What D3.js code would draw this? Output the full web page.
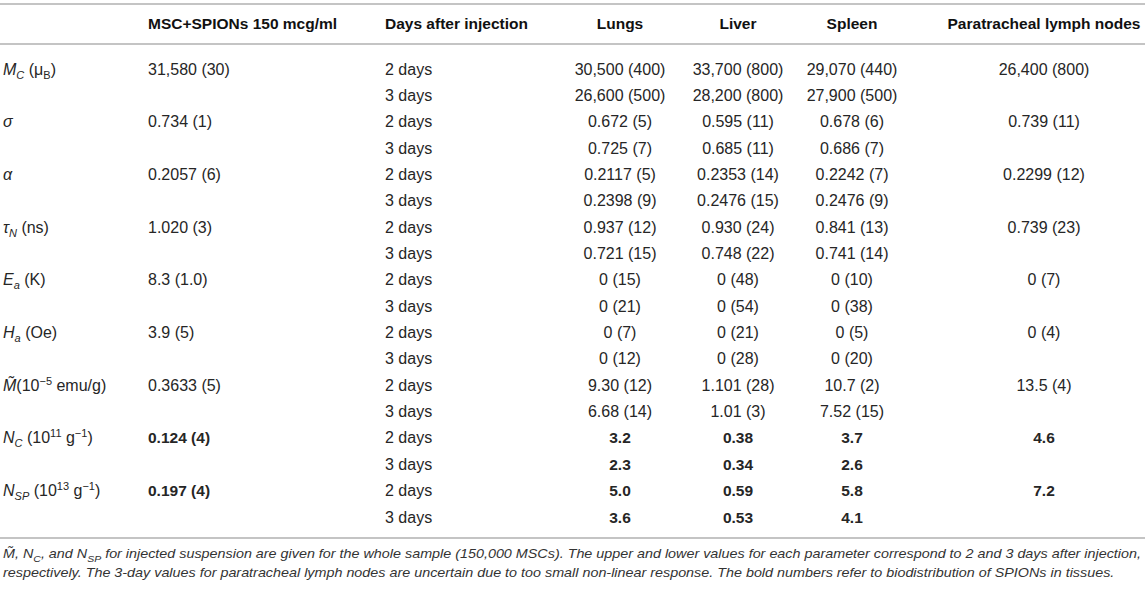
<!DOCTYPE html>
<html>
<head>
<meta charset="utf-8">
<script src="https://cdn.jsdelivr.net/npm/d3@7"></script>
<style>
  html, body { margin: 0; padding: 0; background: #fff; }
  svg { display: block; }
</style>
</head>
<body>
<div id="table"></div>
<script>
// Table content
const headers = ["", "MSC+SPIONs 150 mcg/ml", "Days after injection", "Lungs", "Liver", "Spleen", "Paratracheal lymph nodes"];

// parameter labels: list of segments, s = "sub" | "sup", i = italic
const params = [
  [{t: "M", i: 1}, {t: "C", i: 1, s: "sub"}, {t: " (μ"}, {t: "B", s: "sub"}, {t: ")"}],
  null,
  [{t: "σ", i: 1}],
  null,
  [{t: "α", i: 1}],
  null,
  [{t: "τ", i: 1}, {t: "N", i: 1, s: "sub"}, {t: " (ns)"}],
  null,
  [{t: "E", i: 1}, {t: "a", i: 1, s: "sub"}, {t: " (K)"}],
  null,
  [{t: "H", i: 1}, {t: "a", i: 1, s: "sub"}, {t: " (Oe)"}],
  null,
  [{t: "M\u0303", i: 1}, {t: "(10"}, {t: "−5", s: "sup"}, {t: " emu/g)"}],
  null,
  [{t: "N", i: 1}, {t: "C", i: 1, s: "sub"}, {t: " (10"}, {t: "11", s: "sup"}, {t: " g"}, {t: "−1", s: "sup"}, {t: ")"}],
  null,
  [{t: "N", i: 1}, {t: "SP", i: 1, s: "sub"}, {t: " (10"}, {t: "13", s: "sup"}, {t: " g"}, {t: "−1", s: "sup"}, {t: ")"}],
  null
];

const msc = ["31,580 (30)", "", "0.734 (1)", "", "0.2057 (6)", "", "1.020 (3)", "", "8.3 (1.0)", "",
  "3.9 (5)", "", "0.3633 (5)", "", "0.124 (4)", "", "0.197 (4)", ""];
const days = ["2 days", "3 days", "2 days", "3 days", "2 days", "3 days", "2 days", "3 days", "2 days", "3 days",
  "2 days", "3 days", "2 days", "3 days", "2 days", "3 days", "2 days", "3 days"];
const lungs = ["30,500 (400)", "26,600 (500)", "0.672 (5)", "0.725 (7)", "0.2117 (5)", "0.2398 (9)", "0.937 (12)", "0.721 (15)",
  "0 (15)", "0 (21)", "0 (7)", "0 (12)", "9.30 (12)", "6.68 (14)", "3.2", "2.3", "5.0", "3.6"];
const liver = ["33,700 (800)", "28,200 (800)", "0.595 (11)", "0.685 (11)", "0.2353 (14)", "0.2476 (15)", "0.930 (24)", "0.748 (22)",
  "0 (48)", "0 (54)", "0 (21)", "0 (28)", "1.101 (28)", "1.01 (3)", "0.38", "0.34", "0.59", "0.53"];
const spleen = ["29,070 (440)", "27,900 (500)", "0.678 (6)", "0.686 (7)", "0.2242 (7)", "0.2476 (9)", "0.841 (13)", "0.741 (14)",
  "0 (10)", "0 (38)", "0 (5)", "0 (20)", "10.7 (2)", "7.52 (15)", "3.7", "2.6", "5.8", "4.1"];
const lymph = ["26,400 (800)", "", "0.739 (11)", "", "0.2299 (12)", "", "0.739 (23)", "",
  "0 (7)", "", "0 (4)", "", "13.5 (4)", "", "4.6", "", "7.2", ""];
const boldRows = [14, 15, 16, 17];

const footnote = [
  [{t: "M\u0303"}, {t: ", N"}, {t: "C", s: "sub"}, {t: ", and N"}, {t: "SP", s: "sub"},
   {t: " for injected suspension are given for the whole sample (150,000 MSCs). The upper and lower values for each parameter correspond to 2 and 3 days after injection,"}],
  [{t: "respectively. The 3-day values for paratracheal lymph nodes are uncertain due to too small non-linear response. The bold numbers refer to biodistribution of SPIONs in tissues."}]
];

// Layout
const width = 1145, height = 590;
const font = "'Liberation Sans', Arial, Helvetica, sans-serif";
const fs = 16;
const ruleColor = "#c4c4c4";
const textColor = "#262626";

const svg = d3.select("#table").append("svg")
  .attr("width", width)
  .attr("height", height)
  .style("font-family", font)
  .style("font-size", fs + "px")
  .style("fill", textColor);

// row positions (center of each text line)
const nRows = days.length;
const y = d3.scaleLinear().domain([0, nRows - 1]).range([69, 517]);

// columns: x position and anchor
const cols = [
  {x: 3, anchor: "start"},
  {x: 148, anchor: "start"},
  {x: 385, anchor: "start"},
  {x: 620, anchor: "middle"},
  {x: 738, anchor: "middle"},
  {x: 852, anchor: "middle"},
  {x: 1044, anchor: "middle"}
];

function rich(textSel, segs, subSize) {
  let shift = 0;
  segs.forEach(function (seg) {
    const target = seg.s === "sub" ? 4 : seg.s === "sup" ? -6 : 0;
    const ts = textSel.append("tspan").text(seg.t);
    if (target !== shift) ts.attr("dy", target - shift);
    if (seg.s) ts.style("font-size", subSize + "px");
    if (seg.i) ts.style("font-style", "italic");
    shift = target;
  });
}

// rules
const rules = [4, 44, 538];
svg.selectAll("line.rule")
  .data(rules)
  .enter()
  .append("line")
  .attr("class", "rule")
  .attr("x1", 0)
  .attr("x2", width)
  .attr("y1", d => d)
  .attr("y2", d => d)
  .style("stroke", ruleColor)
  .style("stroke-width", 2);

// header
svg.selectAll("text.header")
  .data(headers)
  .enter()
  .append("text")
  .attr("class", "header")
  .attr("x", (d, i) => cols[i].x)
  .attr("y", 29)
  .attr("text-anchor", (d, i) => cols[i].anchor)
  .style("font-weight", "bold")
  .style("font-size", "15.5px")
  .style("fill", "#111")
  .text(d => d);

// body
const columns = [null, msc, days, lungs, liver, spleen, lymph];
const rows = svg.selectAll("g.row")
  .data(d3.range(nRows))
  .enter()
  .append("g")
  .attr("class", "row")
  .attr("transform", d => "translate(0," + (y(d) + 5.5) + ")");

rows.each(function (r) {
  const g = d3.select(this);
  if (params[r]) {
    const t = g.append("text").attr("x", cols[0].x).attr("y", 0);
    rich(t, params[r], 11);
  }
  for (let c = 1; c < columns.length; c++) {
    const v = columns[c][r];
    if (!v) continue;
    const bold = boldRows.includes(r) && c !== 2;
    g.append("text")
      .attr("x", cols[c].x)
      .attr("y", 0)
      .attr("text-anchor", cols[c].anchor)
      .style("font-weight", bold ? "bold" : "normal")
      .style("font-size", bold ? "15.5px" : null)
      .text(v);
  }
});

// footnote
const fnY = [558, 577];
const fnTexts = footnote.map(function (segs, i) {
  const t = svg.append("text")
    .attr("x", 3)
    .attr("y", fnY[i])
    .style("font-style", "italic")
    .style("font-size", "13px")
    .style("fill", "#333");
  rich(t, segs, 9.5);
  return t;
});
// squeeze the footnote so the first line fills the width like the source
const natural = fnTexts.map(t => t.node().getComputedTextLength());
const ratio = 1138 / natural[0];
fnTexts.forEach(function (t, i) {
  t.attr("textLength", natural[i] * ratio).attr("lengthAdjust", "spacingAndGlyphs");
});
</script>
</body>
</html>
